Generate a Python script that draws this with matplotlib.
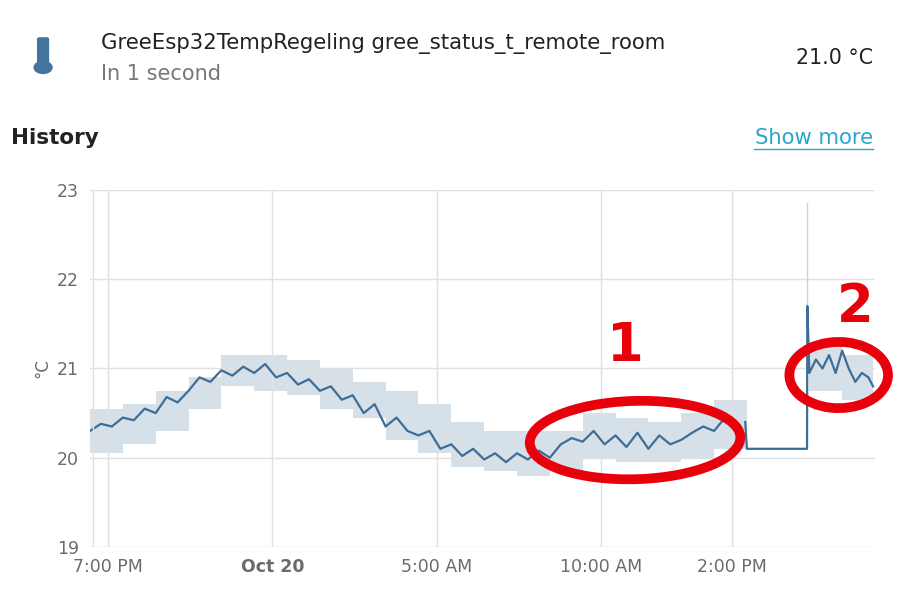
import numpy as np
import matplotlib
matplotlib.use("Agg")
import matplotlib.pyplot as plt
from matplotlib.patches import Ellipse, FancyBboxPatch, Circle

# hours since 18:27 on Oct 19
mean_a = [20.3, 20.38, 20.35, 20.45, 20.42, 20.55, 20.5, 20.68, 20.62, 20.75, 20.9, 20.85,
          20.98, 20.92, 21.02, 20.95, 21.05, 20.9, 20.95, 20.82, 20.88, 20.75, 20.8, 20.65,
          20.7, 20.5, 20.6, 20.35, 20.45, 20.3, 20.25, 20.3, 20.1, 20.15, 20.02, 20.1,
          19.98, 20.05, 19.95, 20.05, 19.98, 20.08, 20.0, 20.15, 20.22, 20.18, 20.3, 20.15,
          20.25, 20.12, 20.28, 20.1, 20.25, 20.15, 20.2, 20.28, 20.35, 20.3, 20.45, 20.4]
t_b = [19.95, 20.0, 21.83, 21.84, 21.9, 22.1, 22.3, 22.5, 22.7, 22.9, 23.1, 23.3, 23.5, 23.7, 23.84]
mean_b = [20.4, 20.1, 20.1, 21.7, 20.95, 21.1, 21.0, 21.15, 20.95, 21.2, 21.0, 20.85, 20.95, 20.9, 20.8]
band_hi = [20.55, 20.6, 20.75, 20.9, 21.15, 21.15, 21.1, 21.0, 20.85, 20.75, 20.6, 20.4,
           20.3, 20.3, 20.3, 20.5, 20.45, 20.4, 20.5, 20.65]
band_lo = [20.05, 20.15, 20.3, 20.55, 20.8, 20.75, 20.7, 20.55, 20.45, 20.2, 20.05, 19.9,
           19.85, 19.8, 19.85, 20.0, 19.95, 19.95, 20.0, 20.1]
band2_t = [21.9, 22.9, 23.84]
band2_hi = [21.3, 21.15, 21.15]
band2_lo = [20.75, 20.65, 20.65]
tick_pos = [0.55, 5.55, 10.55, 15.55, 19.55]
tick_lbl = ["7:00 PM", "Oct 20", "5:00 AM", "10:00 AM", "2:00 PM"]

t_a = np.arange(len(mean_a)) / 3.0
line_c = "#3e6d96"
band_c = "#d6e0e9"

fig = plt.figure(figsize=(8.97, 6.02), dpi=100)
ax = fig.add_axes([0.1003, 0.0914, 0.8752, 0.593])

hb = np.arange(len(band_hi) + 1)
ax.fill_between(hb, band_lo + [band_lo[-1]], band_hi + [band_hi[-1]], step="post", color=band_c, lw=0)
ax.fill_between(band2_t, band2_lo, band2_hi, step="post", color=band_c, lw=0)
ax.plot([21.84, 21.84], [21.7, 22.85], color="#c9d3dc", lw=1)
ax.plot(t_a, mean_a, color=line_c, lw=1.6)
ax.plot(t_b, mean_b, color=line_c, lw=1.6)

ax.set_xlim(0, 23.9)
ax.set_ylim(19, 23)
ax.set_yticks([19, 20, 21, 22, 23])
ax.set_xticks(tick_pos)
ax.set_xticklabels(tick_lbl)
ax.get_xticklabels()[1].set_fontweight("bold")
ax.tick_params(colors="#6b6b6b", labelsize=12.5, length=0, pad=8)
ax.grid(color="#e0e0e0", lw=1)
ax.axvline(0.1, color="#e0e0e0", lw=1)
for s in ax.spines.values():
    s.set_visible(False)
ax.set_ylabel("°C", color="#6b6b6b", fontsize=12)

# header
fig.text(0.113, 0.928, "GreeEsp32TempRegeling gree_status_t_remote_room", fontsize=15.3, color="#222222", va="center")
fig.text(0.113, 0.877, "In 1 second", fontsize=15, color="#777777", va="center")
fig.text(0.973, 0.903, "21.0 °C", fontsize=14.8, color="#222222", va="center", ha="right")
fig.text(0.012, 0.77, "History", fontsize=15.5, color="#222222", va="center", fontweight="bold")
fig.text(0.973, 0.77, "Show more", fontsize=15.2, color="#2aa4cf", va="center", ha="right")
fig.add_artist(plt.Line2D([0.841, 0.973], [0.752, 0.752], color="#2aa4cf", lw=1))
# thermometer icon
fig.add_artist(FancyBboxPatch((0.044, 0.89), 0.008, 0.045, boxstyle="round,pad=0.002", color="#44739e"))
fig.add_artist(Circle((0.048, 0.888), 0.01, color="#44739e", transform=fig.transFigure))

# red marker annotations
fig.add_artist(Ellipse((0.708, 0.269), 0.235, 0.13, angle=3, fill=False, ec="#e8000b", lw=7))
fig.add_artist(Ellipse((0.935, 0.377), 0.11, 0.11, angle=-10, fill=False, ec="#e8000b", lw=7))
fig.text(0.697, 0.425, "1", fontsize=38, color="#e8000b", fontweight="bold", ha="center", va="center")
fig.text(0.953, 0.49, "2", fontsize=38, color="#e8000b", fontweight="bold", ha="center", va="center")

fig.savefig("out.png", dpi=100)
